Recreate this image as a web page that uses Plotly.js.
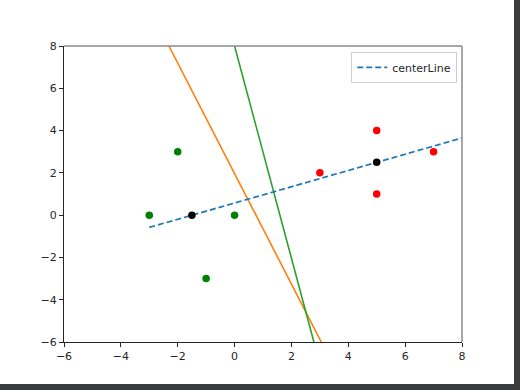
<!DOCTYPE html>
<html>
<head>
<meta charset="utf-8">
<script src="https://cdn.plot.ly/plotly-3.0.1.min.js"></script>
<style>
html,body{margin:0;padding:0;background:#3a3d40;width:520px;height:390px;overflow:hidden;}
#chart{width:514px;height:384px;background:#fff;}
</style>
</head>
<body>
<div id="chart"></div>
<script>
// data
const greenX = [-3, -2, 0, -1];
const greenY = [0, 3, 0, -3];
const redX = [3, 5, 5, 7];
const redY = [2, 4, 1, 3];
const centerX = [-1.5, 5];
const centerY = [0, 2.5];
const centerLineX = [-3, 8];
const centerLineY = [-0.58, 3.65];
const orangeX = [-2.31, 3.05];
const orangeY = [8, -6];
const greenLineX = [0.0, 2.79];
const greenLineY = [8, -6];

const font = {family: 'DejaVu Sans, sans-serif', size: 11, color: '#262626'};

const traces = [
  {x: orangeX, y: orangeY, mode: 'lines', line: {color: '#ff7f0e', width: 1.6}, showlegend: false, hoverinfo: 'skip'},
  {x: greenLineX, y: greenLineY, mode: 'lines', line: {color: '#2ca02c', width: 1.6}, showlegend: false, hoverinfo: 'skip'},
  {x: centerLineX, y: centerLineY, mode: 'lines', name: 'centerLine', line: {color: '#1f77b4', width: 1.7, dash: '6px,3px'}, showlegend: true},
  {x: greenX, y: greenY, mode: 'markers', marker: {color: 'green', size: 7.5}, showlegend: false},
  {x: redX, y: redY, mode: 'markers', marker: {color: 'red', size: 7.5}, showlegend: false},
  {x: centerX, y: centerY, mode: 'markers', marker: {color: 'black', size: 7.5}, showlegend: false}
];

const axisCommon = {
  showgrid: false, zeroline: false, showline: true, linecolor: '#262626', linewidth: 1,
  ticks: 'outside', ticklen: 4, tickwidth: 1, tickcolor: '#262626', tickfont: font, dtick: 2
};

const layout = {
  width: 514, height: 384,
  margin: {l: 64, r: 52, t: 46, b: 42},
  paper_bgcolor: '#ffffff', plot_bgcolor: '#ffffff',
  font: font,
  xaxis: Object.assign({}, axisCommon, {range: [-6, 8], tick0: -6}),
  yaxis: Object.assign({}, axisCommon, {range: [-6, 8], tick0: -6}),
  showlegend: true,
  legend: {x: 0.988, y: 0.98, xanchor: 'right', yanchor: 'top', bgcolor: 'rgba(255,255,255,0.8)', bordercolor: '#d0d0d0', borderwidth: 1, font: font, itemwidth: 30, tracegroupgap: 0},
  shapes: [
    {type: 'line', xref: 'paper', yref: 'paper', x0: 0, x1: 1, y0: 1, y1: 1, line: {color: '#8a8a8a', width: 1.5}},
    {type: 'line', xref: 'paper', yref: 'paper', x0: 1, x1: 1, y0: 0, y1: 1, line: {color: '#8a8a8a', width: 1.5}}
  ]
};

Plotly.newPlot('chart', traces, layout, {displayModeBar: false, staticPlot: true});
</script>
</body>
</html>
